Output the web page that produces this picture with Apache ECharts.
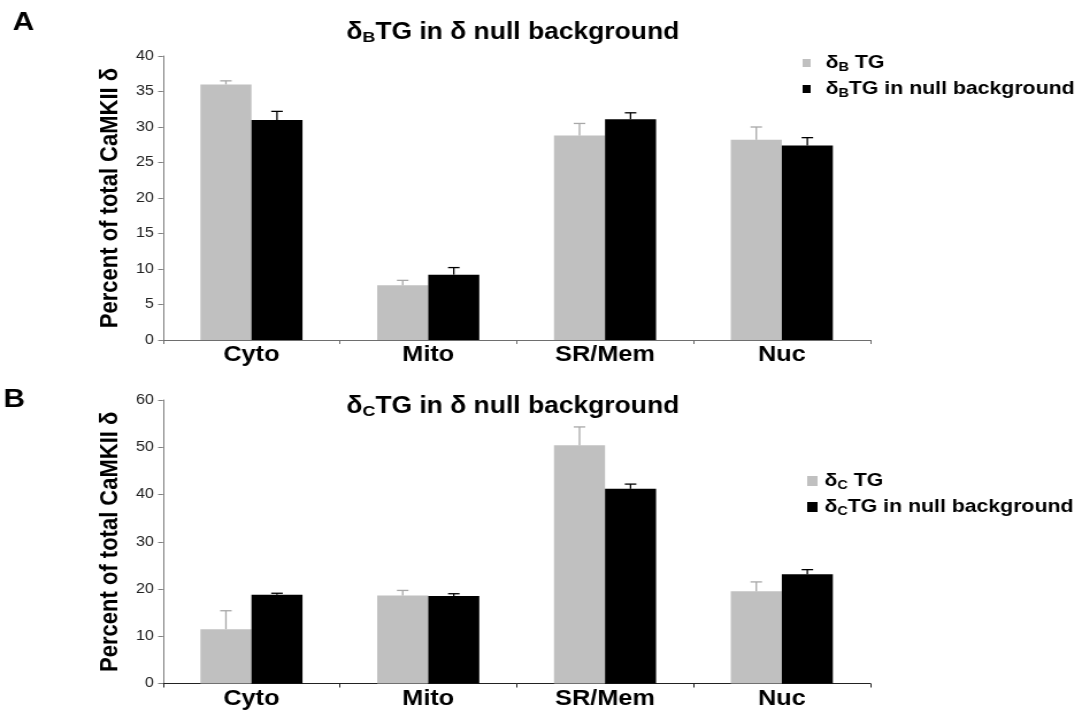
<!DOCTYPE html>
<html>
<head>
<meta charset="utf-8">
<script src="https://cdn.jsdelivr.net/npm/echarts@6/dist/echarts.min.js"></script>
<style>
  html, body { margin: 0; padding: 0; background: #fff; overflow: hidden; }
  /* the figure is laid out narrow and widened horizontally */
  #chart { position: absolute; left: 0; top: 0; width: 941px; height: 715px;
           transform: scaleX(1.14984); transform-origin: 0 0; }
</style>
</head>
<body>
<div id="chart"></div>
<script>
// ---- data ----
const categories = ['Cyto', 'Mito', 'SR/Mem', 'Nuc'];

const panelATitle = 'δ_BTG in δ null background';
const panelBTitle = 'δ_CTG in δ null background';
const panelASeries = ['δ_B TG', 'δ_BTG in null background'];
const panelBSeries = ['δ_C TG', 'δ_CTG in null background'];
const yAxisName = 'Percent of total CaMKII δ';

// Panel A: delta-B transgene
const aTG      = [36.0, 7.7, 28.8, 28.2];
const aTGErr   = [0.5, 0.7, 1.7, 1.8];
const aNull    = [31.0, 9.2, 31.1, 27.4];
const aNullErr = [1.2, 1.0, 0.9, 1.1];

// Panel B: delta-C transgene
const bTG      = [11.5, 18.6, 50.4, 19.5];
const bTGErr   = [3.9, 1.1, 3.9, 2.0];
const bNull    = [18.8, 18.5, 41.2, 23.1];
const bNullErr = [0.3, 0.5, 1.0, 1.0];

const aScale = { min: 0, max: 40, interval: 5 };
const bScale = { min: 0, max: 60, interval: 10 };

// ---- styling ----
const FONT = '"Liberation Sans", Arial, sans-serif';
const GRAY = '#c0c0c0';
const BLACK = '#000000';
const BAR_W = 44.4;

// "δ_B" -> δ with a subscript B (rich text)
const toRich = s => s.replace(/_(\w)/g, '{s|$1}');

function subStyle(size) {
  return { fontSize: size, fontWeight: 'bold', fontFamily: FONT, color: '#000',
           lineHeight: size * 0.7, verticalAlign: 'bottom' };
}

// error bar: upward whisker with a cap, centred on the bar
function errorBar(side, color) {
  return function (params, api) {
    const idx = api.value(0);
    const mean = api.value(1);
    const err = api.value(2);
    const base = api.coord([idx, mean]);
    const top = api.coord([idx, mean + err]);
    const x = base[0] + side * BAR_W / 2;
    const st = { stroke: color, lineWidth: 1.3 };
    return {
      type: 'group',
      children: [
        { type: 'line', shape: { x1: x, y1: base[1], x2: x, y2: top[1] }, style: st },
        { type: 'line', shape: { x1: x - 5, y1: top[1], x2: x + 5, y2: top[1] }, style: st }
      ]
    };
  };
}

function barSeries(name, axis, values, color) {
  return { type: 'bar', name: name, xAxisIndex: axis, yAxisIndex: axis, data: values,
           barWidth: BAR_W, barGap: '0%', itemStyle: { color: color }, silent: true, z: 2 };
}
function errSeries(axis, values, errs, side, color) {
  return { type: 'custom', xAxisIndex: axis, yAxisIndex: axis,
           data: values.map((v, i) => [i, v, errs[i]]), encode: { x: 0, y: 1 },
           renderItem: errorBar(side, color), silent: true, z: 3 };
}

function xAxisFor(grid, lineColor) {
  return {
    gridIndex: grid, type: 'category', data: categories,
    axisLine: { lineStyle: { color: lineColor, width: 1 } },
    axisTick: { show: true, length: 4, lineStyle: { color: lineColor } },
    axisLabel: { fontSize: 22, fontWeight: 'bold', color: '#000', fontFamily: FONT, margin: 4 },
    splitLine: { show: false }
  };
}
function yAxisFor(grid, scale) {
  return {
    gridIndex: grid, type: 'value', min: scale.min, max: scale.max, interval: scale.interval,
    name: yAxisName, nameLocation: 'middle', nameGap: 34,
    nameTextStyle: { fontSize: 22, fontWeight: 'bold', color: '#000', fontFamily: FONT },
    axisLine: { show: true, lineStyle: { color: '#808080', width: 1 } },
    axisTick: { show: true, length: 4.3, lineStyle: { color: '#808080' } },
    axisLabel: { fontSize: 14, color: '#222', fontFamily: FONT, margin: 8 },
    splitLine: { show: false }
  };
}
function legendFor(names, left, top, iw, ih, textPad) {
  return {
    data: names, orient: 'vertical', left: left, top: top, padding: 0,
    itemWidth: iw, itemHeight: ih, itemGap: 4, icon: 'rect', selectedMode: false,
    formatter: toRich,
    textStyle: { fontSize: 18.5, fontWeight: 'bold', color: '#000', fontFamily: FONT,
                 lineHeight: 22, padding: [0, 0, 0, textPad], rich: { s: subStyle(12.5) } }
  };
}
function titleFor(text, left, top) {
  return {
    text: toRich(text), left: left, top: top, textAlign: 'center', padding: 0,
    textStyle: { fontSize: 23, fontWeight: 'bold', color: '#000', fontFamily: FONT,
                 lineHeight: 26, rich: { s: subStyle(15.5) } }
  };
}
function panelLetter(text, left, top) {
  return { text: text, left: left, top: top, padding: 0,
           textStyle: { fontSize: 26, fontWeight: 'bold', color: '#000', fontFamily: FONT } };
}

const chart = echarts.init(document.getElementById('chart'));
chart.setOption({
  animation: false,
  backgroundColor: '#fff',
  title: [
    titleFor(panelATitle, 446, 20),
    titleFor(panelBTitle, 446, 394),
    panelLetter('A', 11, 10),
    panelLetter('B', 3, 387)
  ],
  legend: [
    legendFor(panelASeries, 698, 52, 7, 8, 8),
    legendFor(panelBSeries, 702, 470, 9, 10, 1)
  ],
  grid: [
    { left: 141.8, top: 56, width: 615, height: 284, outerBoundsMode: 'none' },
    { left: 141.8, top: 400, width: 615, height: 283.5, outerBoundsMode: 'none' }
  ],
  xAxis: [xAxisFor(0, '#6e6e6e'), xAxisFor(1, '#222')],
  yAxis: [yAxisFor(0, aScale), yAxisFor(1, bScale)],
  series: [
    barSeries(panelASeries[0], 0, aTG, GRAY),
    barSeries(panelASeries[1], 0, aNull, BLACK),
    errSeries(0, aTG, aTGErr, -1, '#a8a8a8'),
    errSeries(0, aNull, aNullErr, 1, BLACK),
    barSeries(panelBSeries[0], 1, bTG, GRAY),
    barSeries(panelBSeries[1], 1, bNull, BLACK),
    errSeries(1, bTG, bTGErr, -1, '#a8a8a8'),
    errSeries(1, bNull, bNullErr, 1, BLACK)
  ]
});
</script>
</body>
</html>
